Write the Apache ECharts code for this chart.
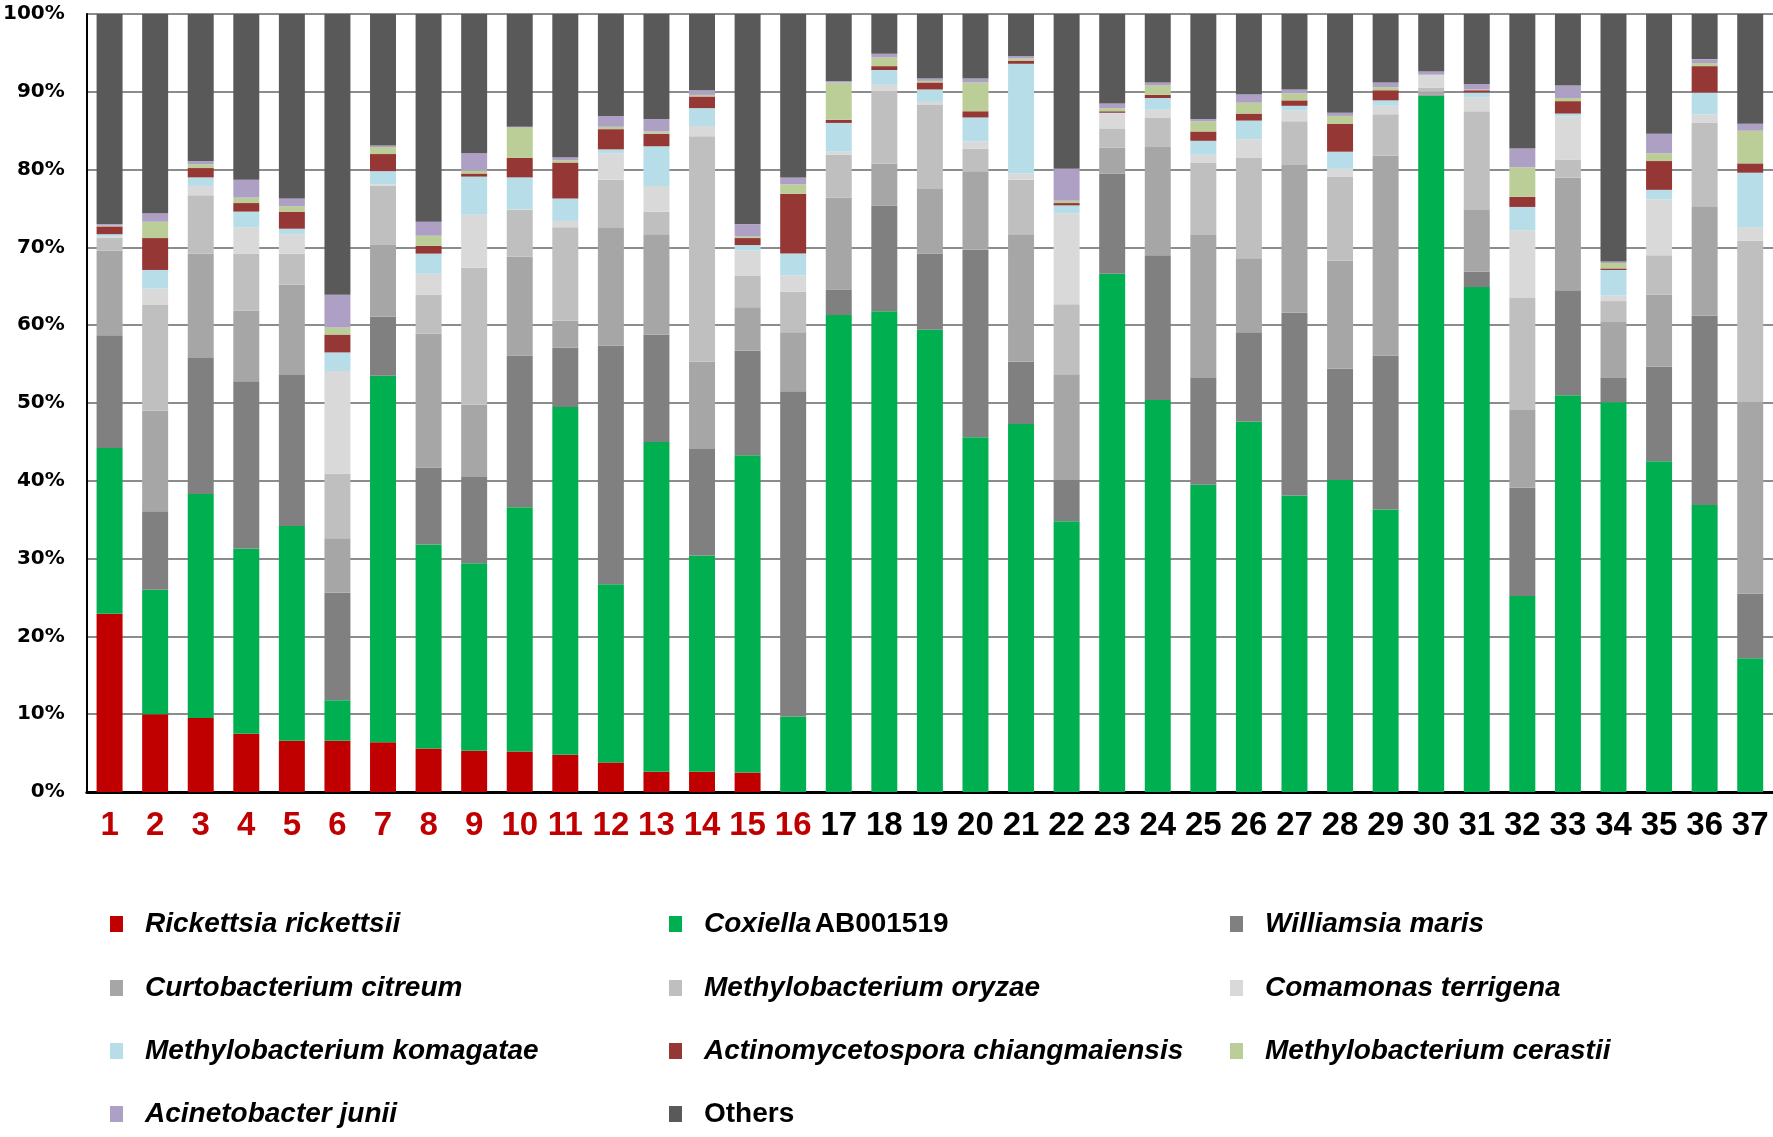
<!DOCTYPE html>
<html>
<head>
<meta charset="utf-8">
<title>Relative abundance</title>
<script src="https://cdn.jsdelivr.net/npm/echarts@6/dist/echarts.min.js"></script>
<style>
  html, body { margin: 0; padding: 0; background: #fff; }
  #main { width: 1773px; height: 1137px; }
</style>
</head>
<body>
<div id="main"></div>
<script>
// sample labels (1-16 in red, the rest black)
var categories = ['1','2','3','4','5','6','7','8','9','10','11','12','13','14','15','16','17','18','19',
  '20','21','22','23','24','25','26','27','28','29','30','31','32','33','34','35','36','37']
var redUntil = 16

// percentages per taxon, bottom of the stack first
var rickettsia = [22.9, 10.0, 9.5, 7.5, 6.6, 6.6, 6.4, 5.6, 5.3, 5.2, 4.8, 3.8, 2.6, 2.6, 2.5, 0, 0, 0, 0, 0, 0, 0, 0, 0, 0, 0, 0, 0, 0, 0, 0, 0, 0, 0, 0, 0, 0]
var coxiella = [21.3, 16.0, 28.8, 23.8, 27.6, 5.2, 47.1, 26.2, 24.1, 31.4, 44.7, 22.9, 42.4, 27.8, 40.8, 9.7, 61.3, 61.8, 59.4, 45.6, 47.3, 34.8, 66.6, 50.4, 39.5, 47.6, 38.1, 40.1, 36.3, 89.5, 64.9, 25.2, 51.0, 50.1, 42.5, 36.9, 17.2]
var williamsia = [14.5, 10.1, 17.5, 21.5, 19.4, 13.8, 7.6, 9.9, 11.1, 19.5, 7.6, 30.7, 13.8, 13.7, 13.4, 41.8, 3.3, 13.6, 9.8, 24.1, 8.0, 5.3, 12.9, 18.6, 13.7, 11.5, 23.5, 14.3, 19.8, 0.1, 2.0, 13.9, 13.5, 3.2, 12.2, 24.3, 8.3]
var curtobacterium = [10.9, 12.9, 13.4, 9.1, 11.6, 7.0, 9.2, 17.2, 9.3, 12.7, 3.5, 15.2, 12.9, 11.2, 5.6, 7.6, 11.8, 5.4, 8.3, 10.1, 16.4, 13.6, 3.3, 13.9, 18.4, 9.5, 19.0, 13.9, 25.7, 0.4, 7.9, 10.0, 14.5, 7.1, 9.2, 14.1, 24.6]
var oryzae = [1.6, 13.6, 7.5, 7.3, 4.0, 8.3, 7.6, 5.0, 17.6, 6.0, 12.0, 6.1, 2.9, 29.0, 4.1, 5.2, 5.5, 9.3, 10.8, 2.9, 7.0, 9.0, 2.5, 3.8, 9.3, 12.9, 5.6, 10.8, 5.3, 0.5, 12.7, 14.4, 2.3, 2.7, 5.1, 10.7, 20.8]
var comamonas = [0.2, 2.1, 1.2, 3.4, 2.5, 13.2, 0.2, 2.7, 6.8, 0.1, 0.8, 3.4, 3.3, 1.3, 3.2, 2.1, 0.4, 0.8, 0.4, 0.9, 0.8, 11.7, 1.9, 1.0, 1.0, 2.4, 1.4, 1.0, 1.1, 1.7, 1.8, 8.7, 5.5, 0.7, 7.2, 1.1, 1.7]
var komagatae = [0.3, 2.4, 1.1, 2.0, 0.7, 2.4, 1.7, 2.6, 4.9, 4.1, 2.9, 0.5, 5.1, 2.3, 0.7, 2.8, 3.7, 1.9, 1.6, 3.1, 14.1, 1.0, 0.1, 1.5, 1.8, 2.4, 0.6, 2.2, 0.7, 0, 0.6, 3.0, 0.4, 3.3, 1.2, 2.8, 7.0]
var actinomycetospora = [1.0, 4.1, 1.2, 1.1, 2.2, 2.3, 2.2, 1.0, 0.4, 2.5, 4.6, 2.6, 1.6, 1.5, 0.9, 7.7, 0.4, 0.5, 0.9, 0.8, 0.4, 0.3, 0.2, 0.4, 1.2, 0.9, 0.7, 3.6, 1.3, 0, 0.3, 1.3, 1.6, 0.2, 3.7, 3.4, 1.2]
var cerastii = [0.1, 2.1, 0.5, 0.7, 0.7, 0.9, 0.9, 1.3, 0.4, 3.9, 0.3, 0.3, 0.3, 0.2, 0.2, 1.2, 4.8, 1.1, 0.2, 3.7, 0.3, 0.3, 0.4, 1.2, 1.3, 1.4, 0.9, 1.0, 0.4, 0, 0.1, 3.8, 0.4, 0.7, 1.0, 0.4, 4.2]
var acinetobacter = [0.2, 1.1, 0.4, 2.3, 1.0, 4.2, 0.2, 1.8, 2.2, 0.1, 0.4, 1.4, 1.6, 0.6, 1.6, 0.9, 0.2, 0.5, 0.3, 0.5, 0.3, 4.1, 0.6, 0.4, 0.3, 1.1, 0.5, 0.4, 0.6, 0.4, 0.7, 2.4, 1.6, 0.2, 2.5, 0.5, 0.9]
var others = [27.0, 25.6, 18.9, 21.3, 23.7, 36.1, 16.9, 26.7, 17.9, 14.5, 18.4, 13.1, 13.5, 9.8, 27.0, 21.0, 8.6, 5.1, 8.3, 8.3, 5.4, 19.9, 11.5, 8.8, 13.5, 10.3, 9.7, 12.7, 8.8, 7.4, 9.0, 17.3, 9.2, 31.8, 15.4, 5.8, 14.1]

var taxa = [
  { name: 'Rickettsia rickettsii', data: rickettsia, color: '#C00000' },
  { name: 'Coxiella AB001519', data: coxiella, color: '#00B050' },
  { name: 'Williamsia maris', data: williamsia, color: '#808080' },
  { name: 'Curtobacterium citreum', data: curtobacterium, color: '#A6A6A6' },
  { name: 'Methylobacterium oryzae', data: oryzae, color: '#BFBFBF' },
  { name: 'Comamonas terrigena', data: comamonas, color: '#D9D9D9' },
  { name: 'Methylobacterium komagatae', data: komagatae, color: '#B7DEE8' },
  { name: 'Actinomycetospora chiangmaiensis', data: actinomycetospora, color: '#953735' },
  { name: 'Methylobacterium cerastii', data: cerastii, color: '#BBCE98' },
  { name: 'Acinetobacter junii', data: acinetobacter, color: '#ADA0C4' },
  { name: 'Others', data: others, color: '#595959' }
]

// legend grid: 3 columns x 4 rows
var legendCols = [110, 669, 1230]
var legendRows = [926, 990, 1053, 1116]

var legendFont = 'Liberation Sans, Arial, sans-serif'

function legendName(name) {
  if (name === 'Others') return '{n|Others}'
  if (name === 'Coxiella AB001519') return '{i|Coxiella} {n|AB001519}'
  return '{i|' + name + '}'
}

var legends = taxa.map(function(t, idx) {
  return {
    data: [t.name],
    left: legendCols[idx % 3],
    top: legendRows[Math.floor(idx / 3)] - 16,
    padding: 0,
    itemWidth: 13,
    itemHeight: 16,
    selectedMode: false,
    icon: 'rect',
    formatter: legendName,
    textStyle: {
      padding: [0, 0, 0, 17],
      rich: {
        i: { fontFamily: legendFont, fontSize: 28, fontWeight: 'bold', fontStyle: 'italic', color: '#000', lineHeight: 32 },
        n: { fontFamily: legendFont, fontSize: 28, fontWeight: 'bold', color: '#000', lineHeight: 32 }
      }
    }
  }
})

var chartObj = echarts.init(document.getElementById('main'))

var option = {
  animation: false,
  backgroundColor: '#fff',
  legend: legends,
  grid: {
    left: 86,
    right: 0,
    top: 14,
    bottom: 345,
    containLabel: false
  },
  xAxis: {
    type: 'category',
    data: categories,
    axisTick: { show: false },
    axisLine: { lineStyle: { color: '#000', width: 3 } },
    axisLabel: {
      interval: 0,
      margin: 17,
      fontFamily: 'Liberation Sans Narrow, Liberation Sans, Arial, sans-serif',
      fontWeight: 'bold',
      fontSize: 33,
      lineHeight: 33,
      color: function(value, index) {
        return Number(value) <= redUntil ? '#C00000' : '#000'
      }
    }
  },
  yAxis: {
    type: 'value',
    min: 0,
    max: 100,
    interval: 10,
    axisLine: { show: true, lineStyle: { color: '#000', width: 2 } },
    axisTick: { show: false },
    axisLabel: {
      formatter: '{value}%',
      margin: 22,
      fontFamily: 'DejaVu Sans, sans-serif',
      fontWeight: 'bold',
      fontSize: 20,
      color: '#000'
    },
    splitLine: { lineStyle: { color: '#8c8c8c', width: 2 } }
  },
  series: taxa.map(function(t) {
    return {
      name: t.name,
      type: 'bar',
      stack: 'total',
      barWidth: '57%',
      data: t.data,
      itemStyle: { color: t.color }
    }
  })
}

chartObj.setOption(option, true)
</script>
</body>
</html>
